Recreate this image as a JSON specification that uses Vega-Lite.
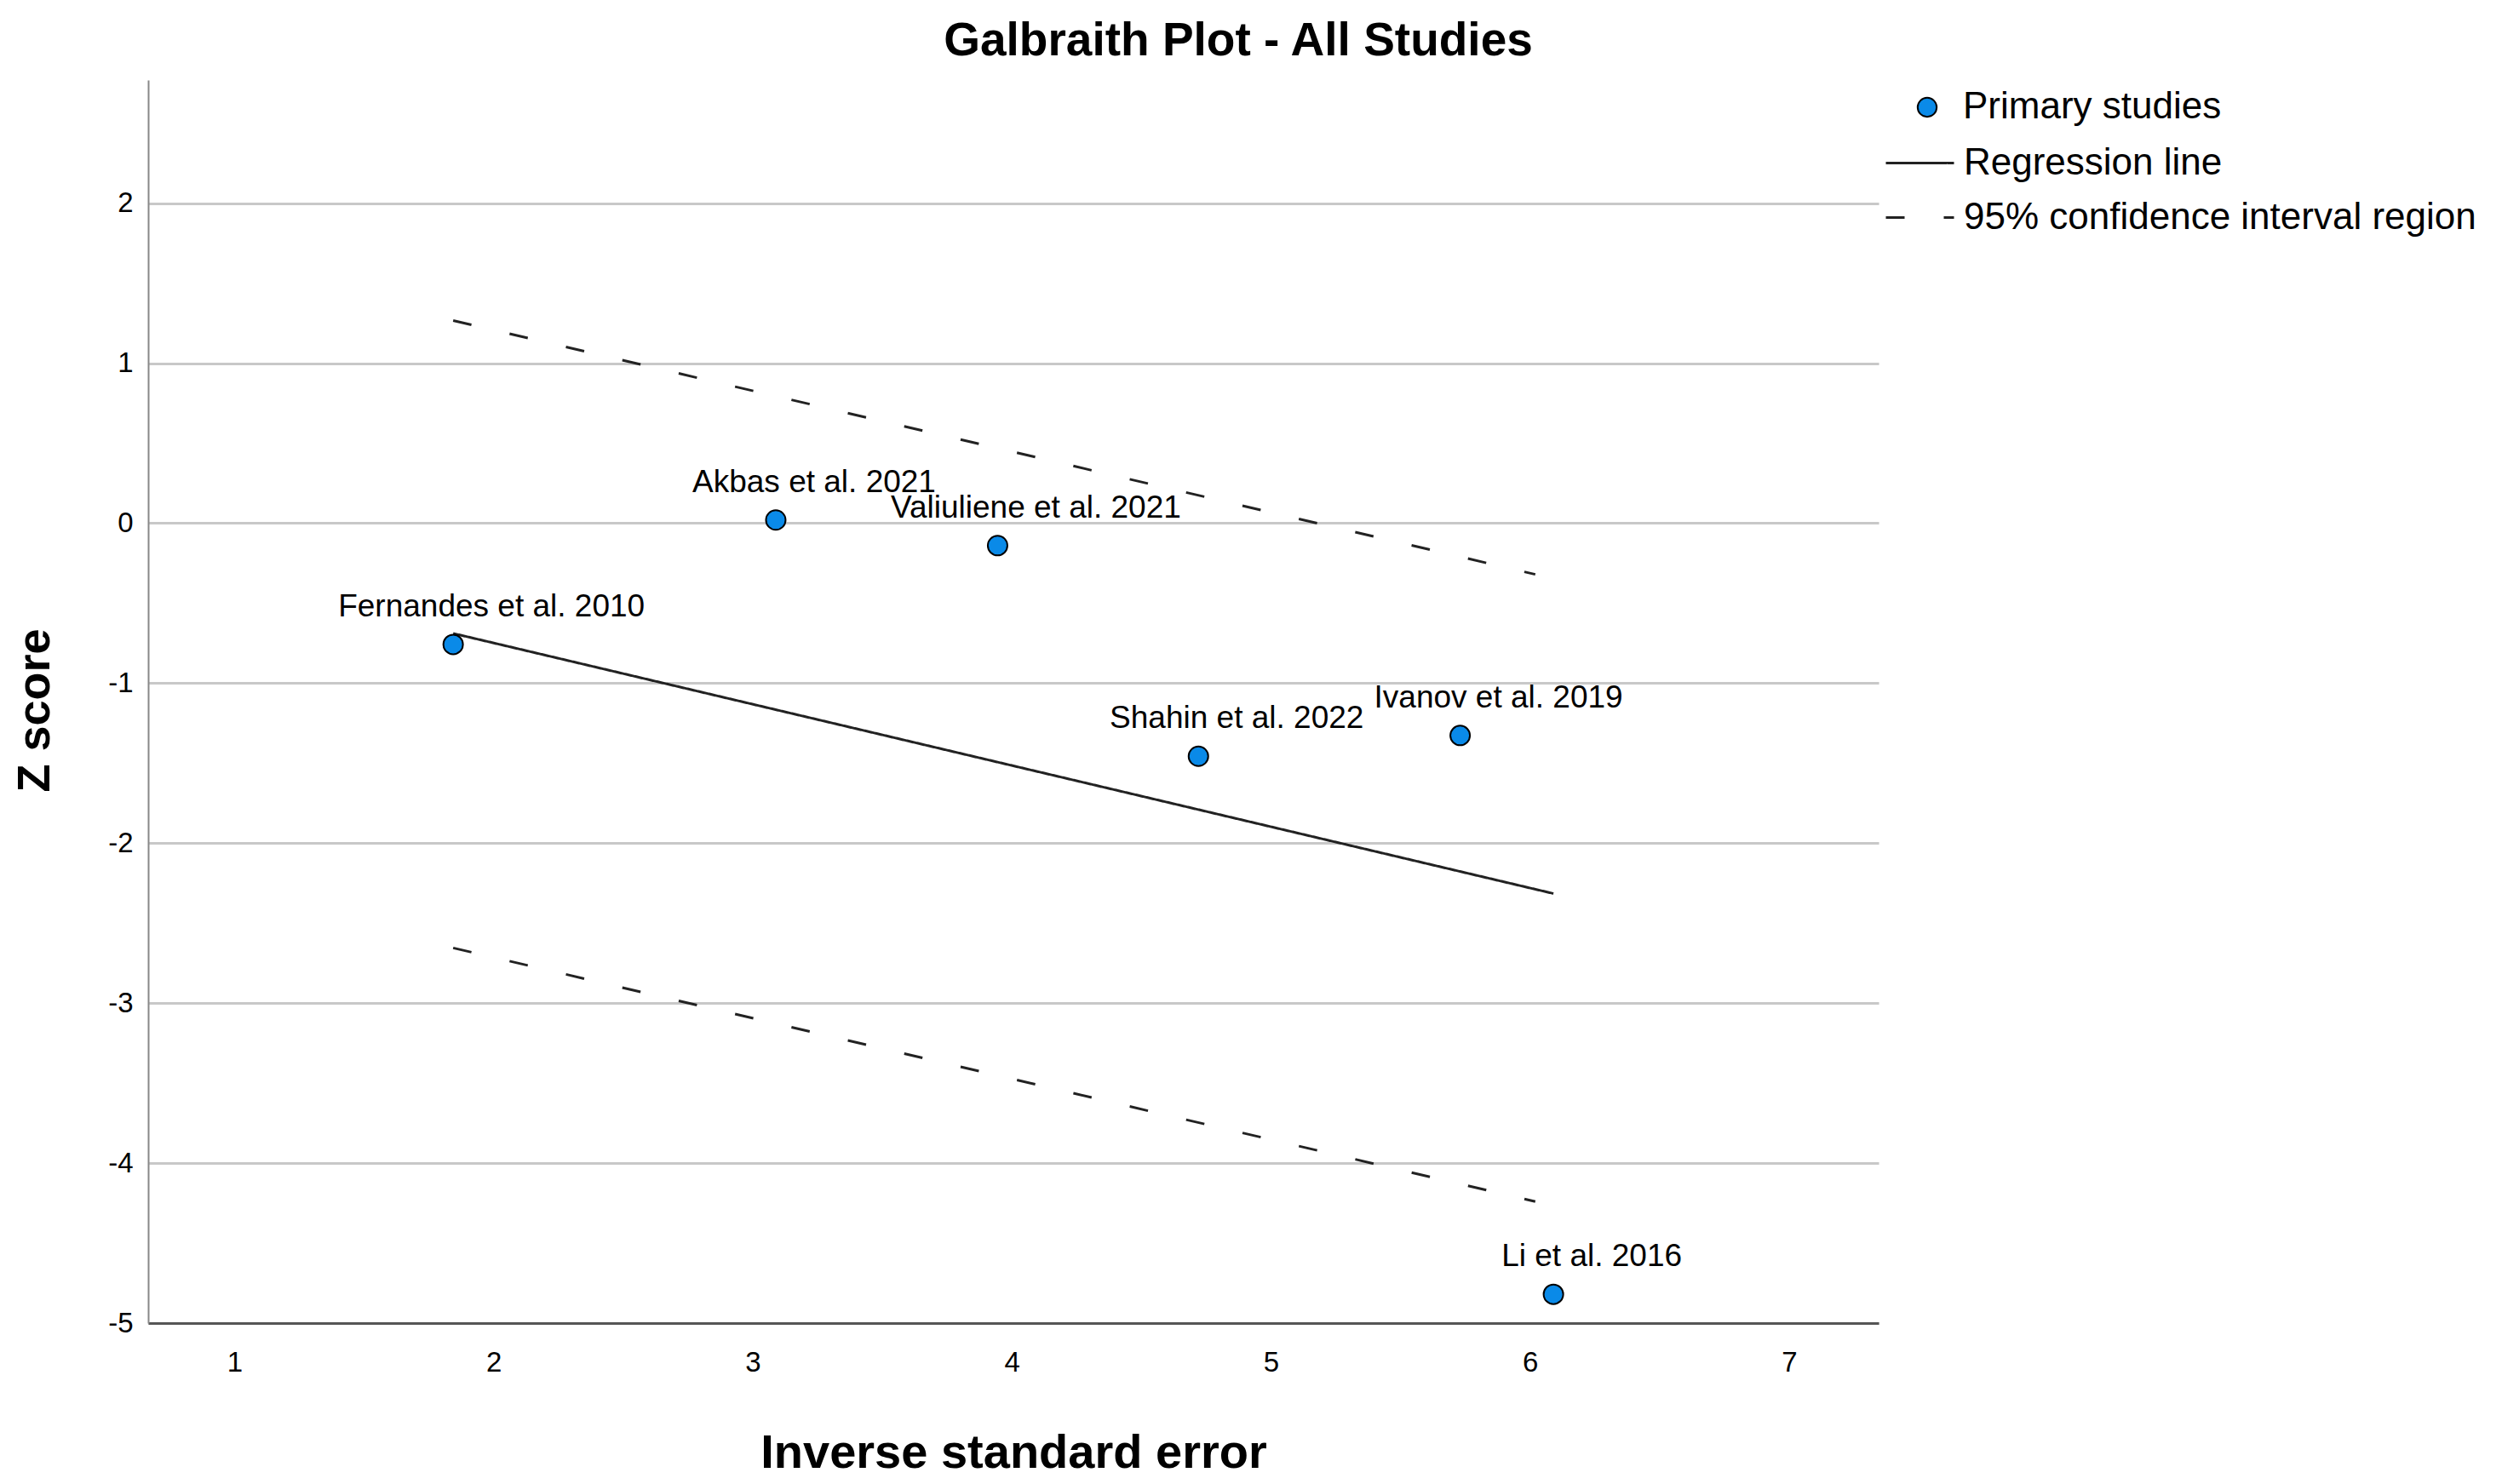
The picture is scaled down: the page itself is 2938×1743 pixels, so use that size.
{
  "$schema": "https://vega.github.io/schema/vega-lite/v6.json",
  "autosize": {"type": "none"},
  "width": 2032,
  "height": 1460,
  "padding": {"left": 174, "top": 94, "right": 732, "bottom": 189},
  "background": "white",
  "config": {
    "font": "Liberation Sans",
    "view": {"stroke": null},
    "axis": {"labelFont": "Liberation Sans", "titleFont": "Liberation Sans", "labelColor": "#000", "titleColor": "#000"}
  },
  "title": {
    "text": "Galbraith Plot - All Studies",
    "fontSize": 55,
    "fontWeight": "bold",
    "font": "Liberation Sans",
    "color": "#000",
    "anchor": "middle",
    "frame": "group",
    "dx": 264,
    "offset": 17
  },
  "datasets": {
    "studies": [
      {"study": "Fernandes et al. 2010", "ise": 1.844, "z": -0.758, "kind": "Primary studies"},
      {"study": "Akbas et al. 2021", "ise": 3.089, "z": 0.02, "kind": "Primary studies"},
      {"study": "Valiuliene et al. 2021", "ise": 3.945, "z": -0.14, "kind": "Primary studies"},
      {"study": "Shahin  et al. 2022", "ise": 4.72, "z": -1.457, "kind": "Primary studies"},
      {"study": "Ivanov et al. 2019", "ise": 5.73, "z": -1.327, "kind": "Primary studies"},
      {"study": "Li et al. 2016", "ise": 6.09, "z": -4.82, "kind": "Primary studies"}
    ],
    "lines": [
      {"series": "Regression line", "line": "reg", "ise": 1.844, "z": -0.689},
      {"series": "Regression line", "line": "reg", "ise": 6.09, "z": -2.315},
      {"series": "95% confidence interval region", "line": "upper", "ise": 1.844, "z": 1.267},
      {"series": "95% confidence interval region", "line": "upper", "ise": 6.02, "z": -0.32},
      {"series": "95% confidence interval region", "line": "lower", "ise": 1.844, "z": -2.655},
      {"series": "95% confidence interval region", "line": "lower", "ise": 6.02, "z": -4.24}
    ]
  },
  "encoding": {
    "x": {
      "field": "ise", "type": "quantitative",
      "scale": {"domain": [0.667, 7.345], "nice": false, "zero": false},
      "axis": {
        "title": "Inverse standard error",
        "values": [1, 2, 3, 4, 5, 6, 7],
        "grid": false, "ticks": false,
        "domainColor": "#555", "domainWidth": 3,
        "labelFontSize": 33, "labelPadding": 30,
        "titleFontSize": 56, "titleFontWeight": "bold",
        "titleY": 152, "titleBaseline": "middle"
      }
    },
    "y": {
      "field": "z", "type": "quantitative",
      "scale": {"domain": [-5, 2.77], "nice": false, "zero": false},
      "axis": {
        "title": "Z score",
        "values": [-5, -4, -3, -2, -1, 0, 1, 2],
        "labelExpr": "toString(datum.value)",
        "grid": true, "gridColor": "#c8c8c8", "gridWidth": 3,
        "ticks": false,
        "domainColor": "#888", "domainWidth": 2,
        "labelFontSize": 33, "labelPadding": 18,
        "titleFontSize": 54, "titleFontWeight": "bold",
        "titleX": -133, "titleY": 740, "titleAngle": -90,
        "titleBaseline": "middle", "titleAlign": "center"
      }
    }
  },
  "layer": [
    {
      "data": {"name": "lines"},
      "mark": {"type": "line", "color": "#222", "strokeWidth": 3},
      "encoding": {
        "detail": {"field": "line"},
        "strokeDash": {
          "field": "series", "type": "nominal",
          "scale": {"domain": ["Regression line", "95% confidence interval region"], "range": [[1, 0], [22, 46]]},
          "legend": {
            "title": null, "orient": "none", "legendX": 2039, "legendY": 56,
            "symbolType": "stroke", "symbolSize": 6400, "symbolStrokeWidth": 3, "symbolStrokeColor": "#222",
            "labelFontSize": 44, "labelFont": "Liberation Sans", "labelColor": "#000", "labelOffset": 10,
            "rowPadding": -7, "padding": 0, "labelLimit": 800
          }
        }
      }
    },
    {
      "data": {"name": "studies"},
      "mark": {"type": "point", "filled": true, "shape": "circle", "size": 530, "stroke": "#000", "strokeWidth": 2, "opacity": 1},
      "encoding": {
        "fill": {
          "field": "kind", "type": "nominal",
          "scale": {"domain": ["Primary studies"], "range": ["#0a8ae8"]},
          "legend": {
            "title": null, "orient": "none", "legendX": 2067, "legendY": 10,
            "symbolType": "circle", "symbolSize": 500, "symbolStrokeColor": "#000", "symbolStrokeWidth": 2,
            "symbolFillColor": "#0a8ae8",
            "labelFontSize": 44, "labelFont": "Liberation Sans", "labelColor": "#000", "labelOffset": 20,
            "padding": 0, "labelLimit": 800
          }
        }
      }
    },
    {
      "data": {"name": "studies"},
      "mark": {"type": "text", "fontSize": 37, "font": "Liberation Sans", "color": "#000", "align": "center", "baseline": "middle", "dx": 45, "dy": -44},
      "encoding": {
        "text": {"field": "study"}
      }
    }
  ]
}
